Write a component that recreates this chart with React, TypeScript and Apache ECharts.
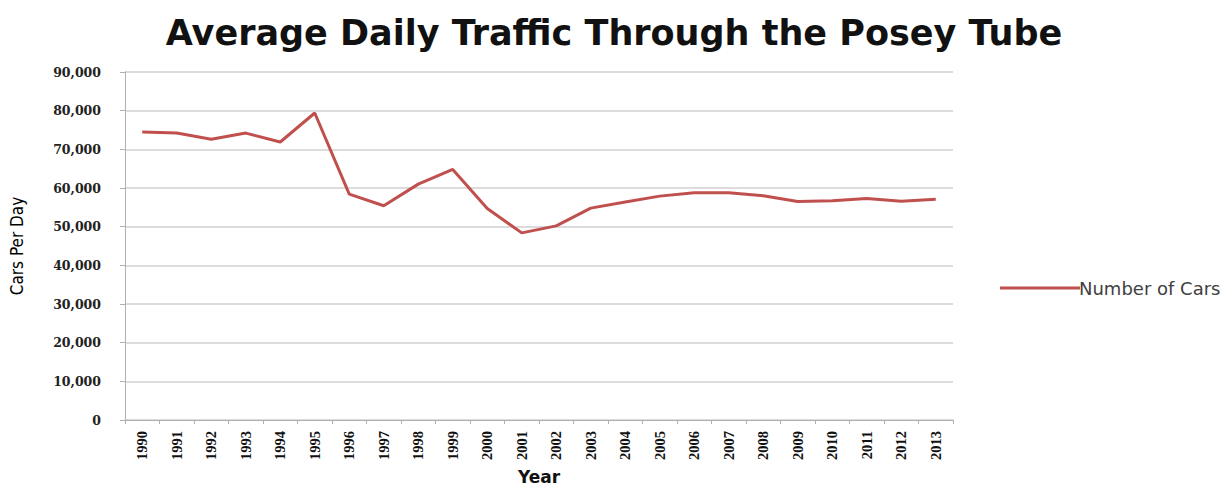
import React, { useEffect, useRef } from "react";
import * as echarts from "echarts";

const years = ["1990","1991","1992","1993","1994","1995","1996","1997","1998","1999","2000","2001","2002","2003","2004","2005","2006","2007","2008","2009","2010","2011","2012","2013"];
const cars = [74500,74200,72600,74200,71900,79400,58400,55400,61000,64800,54700,48400,50200,54800,56400,57900,58800,58800,58000,56500,56700,57300,56600,57100];

export default function App() {
  const ref = useRef<HTMLDivElement>(null);
  useEffect(() => {
    const chart = echarts.init(ref.current!, null, { renderer: "svg" });
    chart.setOption({
      animation: false,
      backgroundColor: "#ffffff",
      title: {
        text: "Average Daily Traffic Through the Posey Tube",
        left: "center",
        top: 10,
        textStyle: { fontFamily: "DejaVu Sans", fontWeight: "bold", fontSize: 35, color: "#111111" },
      },
      legend: {
        orient: "vertical",
        left: 995,
        top: 274,
        itemWidth: 80,
        itemHeight: 3,
        icon: "rect",
        itemGap: 4,
        textStyle: { fontFamily: "DejaVu Sans", fontSize: 18, color: "#404040", padding: [0, 0, 0, -6] },
        data: ["Number of Cars"],
      },
      grid: { left: 125, right: 275, top: 72, bottom: 68, containLabel: false, outerBoundsMode: "none" },
      xAxis: {
        type: "category",
        data: years,
        boundaryGap: true,
        name: "Year",
        nameLocation: "middle",
        nameGap: 48,
        nameTextStyle: { fontFamily: "DejaVu Sans", fontWeight: "bold", fontSize: 17, color: "#111" },
        axisLine: { lineStyle: { color: "#b0b0b0", width: 1 } },
        axisTick: { show: true, alignWithLabel: false, length: 4, lineStyle: { color: "#b0b0b0" } },
        axisLabel: { rotate: 90, fontFamily: "Liberation Serif", fontWeight: "bold", fontSize: 14.5, color: "#111", margin: 11 },
      },
      yAxis: {
        type: "value",
        min: 0,
        max: 90000,
        interval: 10000,
        name: "Cars Per Day",
        nameLocation: "middle",
        nameRotate: 90,
        nameGap: 100,
        nameTextStyle: { fontFamily: "DejaVu Sans Condensed", fontSize: 17, color: "#000" },
        axisLine: { show: true, lineStyle: { color: "#b0b0b0", width: 1 } },
        axisTick: { show: true, length: 5, lineStyle: { color: "#b0b0b0" } },
        splitLine: { lineStyle: { color: "#d0d0d0", width: 1.5 } },
        axisLabel: {
          fontFamily: "DejaVu Serif",
          fontWeight: "bold",
          fontSize: 12.5,
          color: "#222",
          margin: 24,
          formatter: (v: number) => v.toLocaleString("en-US"),
        },
      },
      series: [
        {
          name: "Number of Cars",
          type: "line",
          data: cars,
          symbol: "none",
          lineStyle: { color: "#c0504d", width: 3 },
          itemStyle: { color: "#c0504d" },
        },
      ],
    });
    return () => chart.dispose();
  }, []);
  return <div ref={ref} style={{ width: 1228, height: 488, position: "fixed", left: 0, top: 0 }} />;
}
